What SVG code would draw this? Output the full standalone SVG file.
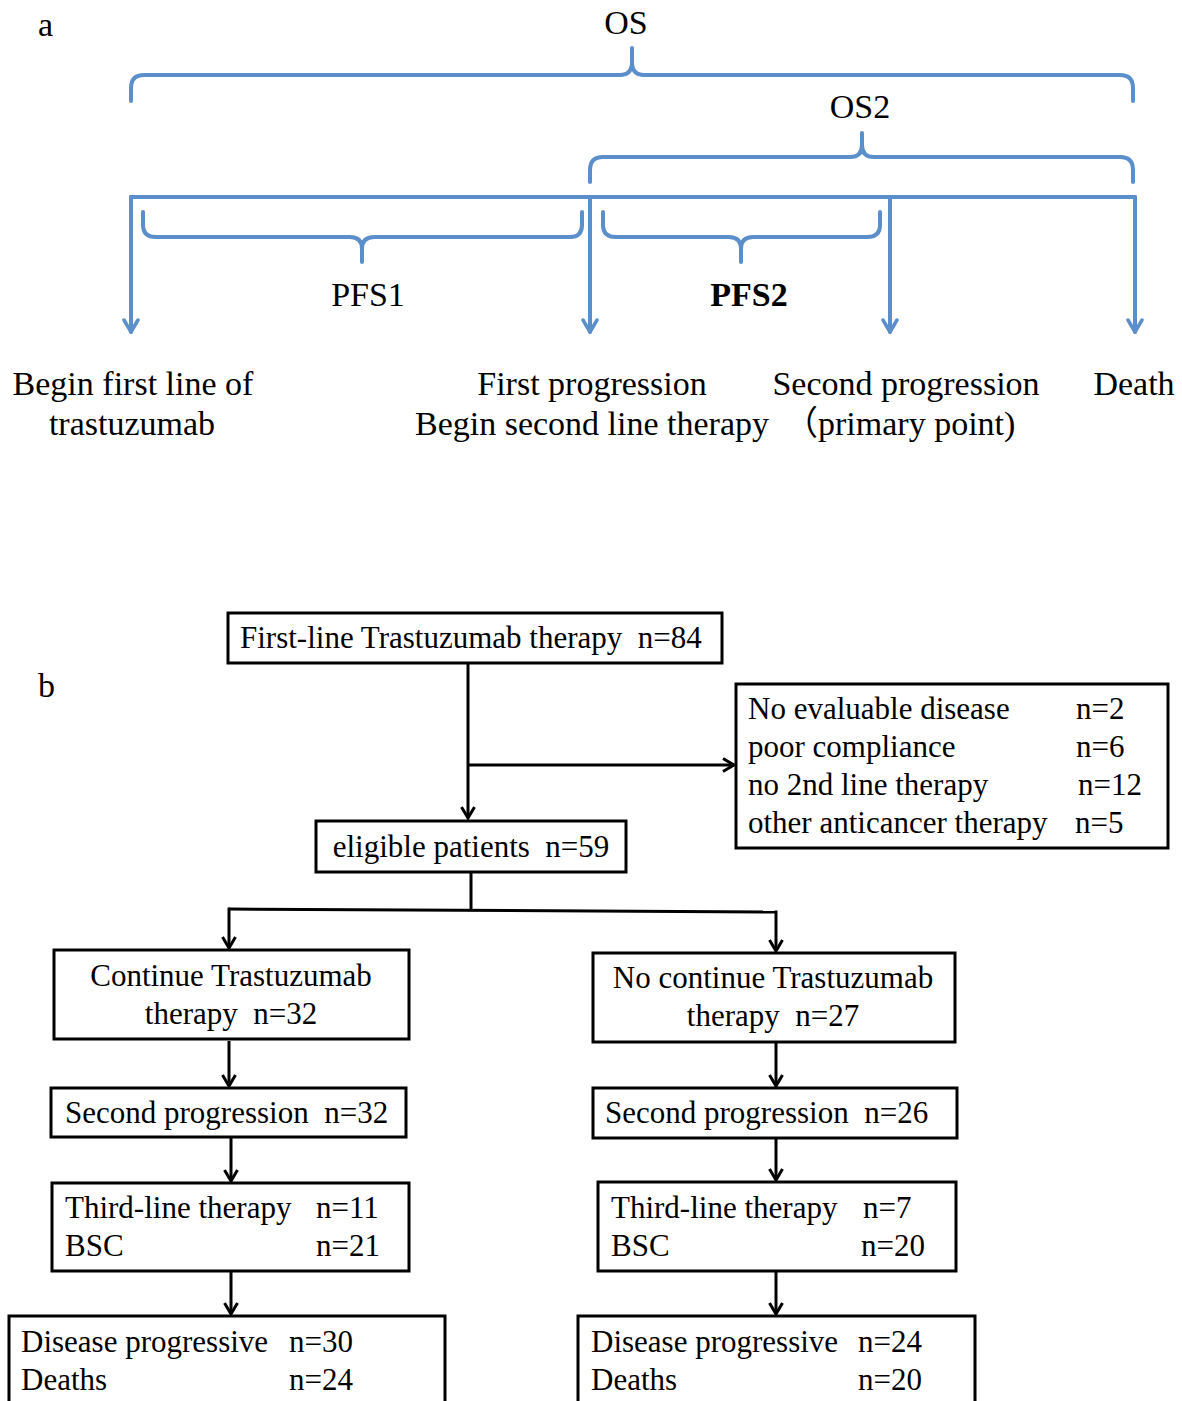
<svg xmlns="http://www.w3.org/2000/svg" width="1182" height="1401" viewBox="0 0 1182 1401">
<style>
.t{font-family:"Liberation Serif","Noto Sans CJK SC",serif;fill:#000;white-space:pre}
.ta{font-size:34px}
.tb{font-size:31px}
.blue{fill:none;stroke:#5B8FCB;stroke-width:4;stroke-linecap:round;stroke-linejoin:round}
.box{fill:#fff;stroke:#000;stroke-width:3}
.con{fill:none;stroke:#000;stroke-width:3}
</style>
<defs>
<marker id="ab" markerUnits="userSpaceOnUse" viewBox="0 0 16 18" refX="14" refY="9" markerWidth="16" markerHeight="18" orient="auto">
<path d="M2,2 L14,9 L2,16" fill="none" stroke="#5B8FCB" stroke-width="3.5" stroke-linecap="round" stroke-linejoin="round"/>
</marker>
<marker id="ak" markerUnits="userSpaceOnUse" viewBox="0 0 14 16" refX="12.5" refY="8" markerWidth="14" markerHeight="16" orient="auto">
<path d="M1.5,1.5 L12.5,8 L1.5,14.5" fill="none" stroke="#000" stroke-width="3" stroke-linejoin="miter"/>
</marker>
</defs>
<rect width="1182" height="1401" fill="#fff"/>

<!-- Part a -->
<g id="panel-a">
<text class="t" x="38" y="36" font-size="34">a</text>
<g id="braces">
<path class="blue" d="M131,101 L131,88 Q131,75 144,75 L620,75 Q632,75 632,62 L632,48 L632,62 Q632,75 644,75 L1120,75 Q1133,75 1133,88 L1133,101"/>
<path class="blue" d="M590,182 L590,170 Q590,157 603,157 L850,157 Q862,157 862,145 L862,133 L862,145 Q862,157 874,157 L1120,157 Q1133,157 1133,170 L1133,182"/>
<path class="blue" d="M143,212 L143,225 Q143,237 156,237 L350,237 Q362,237 362,249 L362,262 L362,249 Q362,237 374,237 L570,237 Q582,237 582,225 L582,212"/>
<path class="blue" d="M603,212 L603,225 Q603,237 616,237 L729,237 Q741,237 741,249 L741,262 L741,249 Q741,237 753,237 L867,237 Q880,237 880,225 L880,212"/>
</g>
<g id="timeline">
<path class="blue" d="M131,197 L1135,197"/>
<path class="blue" d="M131,197 L131,332" marker-end="url(#ab)"/>
<path class="blue" d="M590,197 L590,332" marker-end="url(#ab)"/>
<path class="blue" d="M890,197 L890,332" marker-end="url(#ab)"/>
<path class="blue" d="M1135,197 L1135,332" marker-end="url(#ab)"/>
</g>
<text class="t ta" x="626" y="34" text-anchor="middle">OS</text>
<text class="t ta" x="860" y="118" text-anchor="middle">OS2</text>
<text class="t ta" x="368" y="306" text-anchor="middle">PFS1</text>
<text class="t ta" x="749" y="306" text-anchor="middle" font-weight="bold">PFS2</text>
<text class="t ta" x="133" y="395" text-anchor="middle">Begin first line of</text>
<text class="t ta" x="132" y="435" text-anchor="middle">trastuzumab</text>
<text class="t ta" x="592" y="395" text-anchor="middle">First progression</text>
<text class="t ta" x="592" y="435" text-anchor="middle">Begin second line therapy</text>
<text class="t ta" x="906" y="395" text-anchor="middle">Second progression</text>
<text class="t ta" x="784" y="435">（primary point)</text>
<text class="t ta" x="1134" y="395" text-anchor="middle">Death</text>
</g>

<!-- Part b -->
<text class="t" x="38" y="697" font-size="34">b</text>
<g id="connectors">
<path class="con" d="M468,663 L468,818" marker-end="url(#ak)"/>
<path class="con" d="M468,765 L734,765" marker-end="url(#ak)"/>
<path class="con" d="M471,872 L471,909"/>
<path class="con" d="M229,909 L776,912"/>
<path class="con" d="M229,907.5 L229,948" marker-end="url(#ak)"/>
<path class="con" d="M776,910.5 L776,951" marker-end="url(#ak)"/>
<path class="con" d="M229,1041 L229,1086" marker-end="url(#ak)"/>
<path class="con" d="M776,1043 L776,1086" marker-end="url(#ak)"/>
<path class="con" d="M231,1138 L231,1181" marker-end="url(#ak)"/>
<path class="con" d="M776,1139 L776,1180" marker-end="url(#ak)"/>
<path class="con" d="M231,1272 L231,1314" marker-end="url(#ak)"/>
<path class="con" d="M776,1272 L776,1314" marker-end="url(#ak)"/>
</g>
<g id="n-first">
<rect class="box" x="228" y="613" width="494" height="50"/>
<text class="t tb" x="240" y="648">First-line Trastuzumab therapy  n=84</text>
</g>
<g id="n-excluded">
<rect class="box" x="736" y="684" width="432" height="164"/>
<text class="t tb" x="748" y="719">No evaluable disease</text><text class="t tb" x="1076" y="719">n=2</text>
<text class="t tb" x="748" y="757">poor compliance</text><text class="t tb" x="1076" y="757">n=6</text>
<text class="t tb" x="748" y="795">no 2nd line therapy</text><text class="t tb" x="1078" y="795">n=12</text>
<text class="t tb" x="748" y="833">other anticancer therapy</text><text class="t tb" x="1075" y="833">n=5</text>
</g>
<g id="n-eligible">
<rect class="box" x="316" y="821" width="310" height="51"/>
<text class="t tb" x="471" y="857" text-anchor="middle">eligible patients  n=59</text>
</g>
<g id="n-continue">
<rect class="box" x="54" y="950" width="355" height="89"/>
<text class="t tb" x="231" y="986" text-anchor="middle">Continue Trastuzumab</text>
<text class="t tb" x="231" y="1024" text-anchor="middle">therapy  n=32</text>
</g>
<g id="n-nocontinue">
<rect class="box" x="593" y="953" width="362" height="89"/>
<text class="t tb" x="773" y="988" text-anchor="middle">No continue Trastuzumab</text>
<text class="t tb" x="773" y="1026" text-anchor="middle">therapy  n=27</text>
</g>
<g id="n-sp-left">
<rect class="box" x="51" y="1088" width="355" height="49"/>
<text class="t tb" x="65" y="1123">Second progression  n=32</text>
</g>
<g id="n-sp-right">
<rect class="box" x="593" y="1088" width="364" height="50"/>
<text class="t tb" x="605" y="1123">Second progression  n=26</text>
</g>
<g id="n-third-left">
<rect class="box" x="52" y="1183" width="357" height="88"/>
<text class="t tb" x="65" y="1218">Third-line therapy</text><text class="t tb" x="316" y="1218">n=11</text>
<text class="t tb" x="65" y="1256">BSC</text><text class="t tb" x="316" y="1256">n=21</text>
</g>
<g id="n-third-right">
<rect class="box" x="598" y="1182" width="358" height="89"/>
<text class="t tb" x="611" y="1218">Third-line therapy</text><text class="t tb" x="863" y="1218">n=7</text>
<text class="t tb" x="611" y="1256">BSC</text><text class="t tb" x="861" y="1256">n=20</text>
</g>
<g id="n-out-left">
<rect class="box" x="9" y="1316" width="436" height="110"/>
<text class="t tb" x="21" y="1352">Disease progressive</text><text class="t tb" x="289" y="1352">n=30</text>
<text class="t tb" x="21" y="1390">Deaths</text><text class="t tb" x="289" y="1390">n=24</text>
</g>
<g id="n-out-right">
<rect class="box" x="578" y="1316" width="397" height="110"/>
<text class="t tb" x="591" y="1352">Disease progressive</text><text class="t tb" x="858" y="1352">n=24</text>
<text class="t tb" x="591" y="1390">Deaths</text><text class="t tb" x="858" y="1390">n=20</text>
</g>
</svg>
